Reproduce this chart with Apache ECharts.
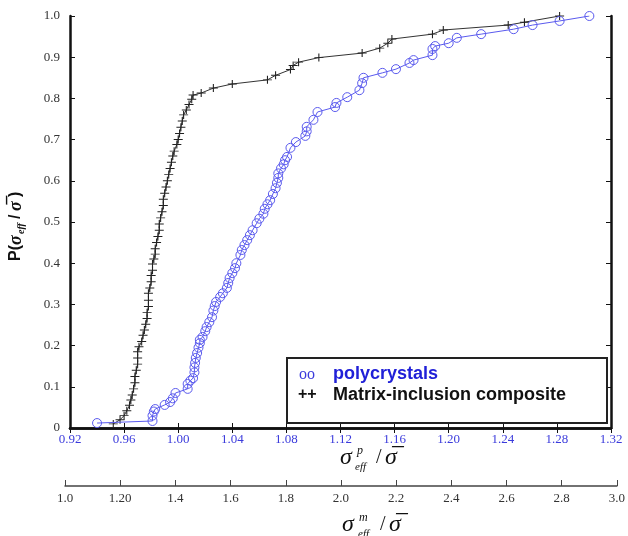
<!DOCTYPE html>
<html>
<head>
<meta charset="utf-8">
<script src="https://cdn.jsdelivr.net/npm/echarts@6/dist/echarts.min.js"></script>
<style>
  html, body { margin: 0; padding: 0; background: #fff; }
  #main { width: 628px; height: 536px; }
</style>
</head>
<body>
<div id="main"></div>
<script>
// composite (black, plus markers)
var compositeX = [0.952,0.957,0.960,0.962,0.964,0.965,0.966,0.967,0.968,0.968,0.969,0.970,0.970,0.970,0.971,0.973,0.974,0.975,0.976,0.977,0.977,0.978,0.978,0.978,0.979,0.980,0.980,0.981,0.981,0.982,0.983,0.983,0.984,0.985,0.986,0.986,0.987,0.988,0.989,0.989,0.990,0.991,0.992,0.993,0.994,0.995,0.996,0.997,0.999,1.000,1.001,1.002,1.003,1.004,1.006,1.008,1.010,1.011,1.017,1.026,1.040,1.066,1.072,1.083,1.085,1.089,1.104,1.136,1.149,1.155,1.158,1.188,1.196,1.244,1.256,1.282];
var compositeP = [0.010,0.020,0.030,0.042,0.055,0.068,0.080,0.095,0.110,0.125,0.140,0.155,0.170,0.185,0.197,0.210,0.225,0.238,0.252,0.266,0.280,0.295,0.310,0.327,0.340,0.355,0.370,0.383,0.398,0.410,0.422,0.435,0.450,0.465,0.480,0.495,0.510,0.525,0.540,0.555,0.570,0.585,0.600,0.615,0.630,0.645,0.660,0.672,0.688,0.700,0.715,0.730,0.745,0.760,0.772,0.785,0.798,0.808,0.813,0.825,0.835,0.845,0.856,0.870,0.880,0.888,0.899,0.910,0.922,0.934,0.944,0.956,0.966,0.978,0.985,1.000];

// polycrystals (blue, circle markers)
var polyX = [0.940,0.981,0.981,0.982,0.983,0.990,0.994,0.996,0.998,1.007,1.007,1.009,1.011,1.012,1.012,1.0125,1.013,1.014,1.015,1.016,1.016,1.018,1.020,1.021,1.023,1.025,1.026,1.027,1.028,1.031,1.033,1.036,1.037,1.038,1.040,1.042,1.043,1.046,1.047,1.049,1.051,1.053,1.055,1.058,1.060,1.063,1.064,1.066,1.068,1.070,1.072,1.073,1.074,1.074,1.076,1.078,1.079,1.0805,1.083,1.087,1.094,1.095,1.095,1.100,1.103,1.116,1.117,1.125,1.134,1.136,1.137,1.151,1.161,1.171,1.174,1.188,1.188,1.190,1.200,1.206,1.224,1.248,1.262,1.282,1.304];
var polyP = [0.012,0.017,0.030,0.040,0.046,0.056,0.063,0.072,0.085,0.095,0.107,0.115,0.121,0.135,0.147,0.158,0.170,0.182,0.195,0.206,0.214,0.221,0.235,0.245,0.257,0.269,0.285,0.296,0.306,0.318,0.327,0.340,0.352,0.364,0.376,0.388,0.400,0.420,0.432,0.444,0.456,0.468,0.480,0.497,0.508,0.520,0.532,0.543,0.553,0.568,0.582,0.595,0.607,0.618,0.630,0.640,0.650,0.658,0.680,0.694,0.709,0.720,0.731,0.748,0.767,0.779,0.789,0.803,0.820,0.837,0.850,0.862,0.871,0.886,0.893,0.905,0.920,0.927,0.934,0.947,0.956,0.968,0.978,0.988,1.000];

// secondary (matrix) axis tick labels
var matrixTicks = ['1.0','1.20','1.4','1.6','1.8','2.0','2.2','2.4','2.6','2.8','3.0'];

var legendNames = ['polycrystals', 'Matrix-inclusion composite'];

function pairs(xs, ys) {
    var out = [];
    for (var i = 0; i < xs.length; i++) out.push([xs[i], ys[i]]);
    return out;
}

var serif = '"Liberation Serif", "DejaVu Serif", serif';
var sans = '"Liberation Sans", Arial, sans-serif';
var blue = '#3b3bdc';
var plusPath = 'path://M0,4.4H10V5.6H0Z M4.4,0H5.6V10H4.4Z';

var dom = document.getElementById('main');
var myChart = echarts.init(dom, null, { renderer: 'canvas' });

var option = {
    animation: false,
    backgroundColor: '#fff',
    grid: [
        { left: 70, right: 17, top: 16, bottom: 108 },
        { left: 65, right: 11, top: 476, bottom: 50 }
    ],
    xAxis: [
        {
            gridIndex: 0, type: 'value', min: 0.92, max: 1.32, interval: 0.04,
            position: 'bottom',
            axisLine: { lineStyle: { color: '#111', width: 2.5 } },
            axisTick: { inside: true, length: 5, lineStyle: { color: '#111' } },
            splitLine: { show: false },
            axisLabel: {
                color: blue, fontFamily: serif, fontSize: 13, margin: 5,
                formatter: function (v) { return v.toFixed(2); }
            }
        },
        {
            gridIndex: 0, type: 'value', min: 0.92, max: 1.32, interval: 0.04,
            position: 'top',
            axisLine: { lineStyle: { color: '#111', width: 2.5 } },
            axisTick: { inside: true, length: 5, lineStyle: { color: '#111' } },
            splitLine: { show: false },
            axisLabel: { show: false }
        },
        {
            gridIndex: 1, type: 'value', min: 1.0, max: 3.0, interval: 0.2,
            position: 'bottom',
            axisLine: { lineStyle: { color: '#444', width: 1.5 } },
            axisTick: { inside: true, length: 6, lineStyle: { color: '#444' } },
            splitLine: { show: false },
            axisLabel: {
                color: '#333', fontFamily: serif, fontSize: 13, margin: 6,
                formatter: function (v) { return matrixTicks[Math.round((v - 1.0) / 0.2)]; }
            }
        }
    ],
    yAxis: [
        {
            gridIndex: 0, type: 'value', min: 0, max: 1, interval: 0.1,
            position: 'left',
            axisLine: { show: true, lineStyle: { color: '#111', width: 2.5 } },
            axisTick: { show: true, inside: true, length: 5, lineStyle: { color: '#111' } },
            splitLine: { show: false },
            axisLabel: {
                color: '#333', fontFamily: serif, fontSize: 13, margin: 10,
                formatter: function (v) { return v === 0 ? '0' : v.toFixed(1); }
            }
        },
        {
            gridIndex: 0, type: 'value', min: 0, max: 1, interval: 0.1,
            position: 'right',
            axisLine: { show: true, lineStyle: { color: '#111', width: 2.5 } },
            axisTick: { show: true, inside: true, length: 5, lineStyle: { color: '#111' } },
            splitLine: { show: false },
            axisLabel: { show: false }
        },
        { gridIndex: 1, type: 'value', min: 0, max: 1, show: false }
    ],
    series: [
        {
            name: legendNames[1],
            type: 'line',
            xAxisIndex: 0, yAxisIndex: 0,
            data: pairs(compositeX, compositeP),
            symbol: plusPath,
            symbolSize: [9, 8],
            itemStyle: { color: '#222' },
            lineStyle: { color: '#333', width: 1 },
            z: 3
        },
        {
            name: legendNames[0],
            type: 'line',
            xAxisIndex: 0, yAxisIndex: 0,
            data: pairs(polyX, polyP),
            symbol: 'circle',
            symbolSize: 9,
            itemStyle: { color: 'rgba(0,0,0,0)', borderColor: '#5a5aee', borderWidth: 1 },
            lineStyle: { color: '#5a5aee', width: 1 },
            z: 4
        }
    ],
    graphic: [
        // legend box
        {
            type: 'rect', left: 286, top: 357,
            shape: { width: 320, height: 65 },
            style: { fill: '#fff', stroke: '#222', lineWidth: 2 },
            z: 10
        },
        {
            type: 'text', left: 299, top: 367, z: 11,
            style: { text: 'oo', fill: blue, font: '16px ' + serif }
        },
        {
            type: 'text', left: 333, top: 365, z: 11,
            style: { text: legendNames[0], fill: '#2020d8', font: 'bold 18px ' + sans }
        },
        {
            type: 'text', left: 298, top: 387, z: 11,
            style: { text: '++', fill: '#111', font: 'bold 16px ' + sans }
        },
        {
            type: 'text', left: 333, top: 386, z: 11,
            style: { text: legendNames[1], fill: '#111', font: 'bold 18px ' + sans }
        },
        // y axis title
        {
            type: 'group', x: 16, y: 222, rotation: Math.PI / 2,
            children: [
                { type: 'text', x: -39, y: 0, style: { text: 'P(', fill: '#111', font: 'bold 16px ' + sans, textVerticalAlign: 'middle' } },
                { type: 'text', x: -23, y: 0, style: { text: 'σ', fill: '#111', font: 'italic bold 18px ' + serif, textVerticalAlign: 'middle' } },
                { type: 'text', x: -12, y: 5, style: { text: 'eff', fill: '#111', font: 'italic bold 10px ' + serif, textVerticalAlign: 'middle' } },
                { type: 'text', x: 3, y: 0, style: { text: '/', fill: '#111', font: 'bold 16px ' + sans, textVerticalAlign: 'middle' } },
                { type: 'text', x: 11, y: 0, style: { text: 'σ\u0305', fill: '#111', font: 'italic bold 18px ' + serif, textVerticalAlign: 'middle' } },
                { type: 'text', x: 25, y: 0, style: { text: ')', fill: '#111', font: 'bold 16px ' + sans, textVerticalAlign: 'middle' } }
            ]
        },
        // x axis title (p)
        {
            type: 'group', x: 340, y: 458,
            children: [
                { type: 'text', x: 0, y: 0, style: { text: 'σ', fill: '#111', font: 'italic 24px ' + serif, textVerticalAlign: 'middle' } },
                { type: 'text', x: 17, y: -7, style: { text: 'p', fill: '#111', font: 'italic 12px ' + serif, textVerticalAlign: 'middle' } },
                { type: 'text', x: 15, y: 9, style: { text: 'eff', fill: '#111', font: 'italic 11px ' + serif, textVerticalAlign: 'middle' } },
                { type: 'text', x: 36, y: 0, style: { text: '/', fill: '#111', font: '20px ' + serif, textVerticalAlign: 'middle' } },
                { type: 'text', x: 45, y: 0, style: { text: 'σ\u0305', fill: '#111', font: 'italic 24px ' + serif, textVerticalAlign: 'middle' } }
            ]
        },
        // x axis title (m)
        {
            type: 'group', x: 342, y: 525,
            children: [
                { type: 'text', x: 0, y: 0, style: { text: 'σ', fill: '#111', font: 'italic 24px ' + serif, textVerticalAlign: 'middle' } },
                { type: 'text', x: 17, y: -7, style: { text: 'm', fill: '#111', font: 'italic 12px ' + serif, textVerticalAlign: 'middle' } },
                { type: 'text', x: 16, y: 9, style: { text: 'eff', fill: '#111', font: 'italic 11px ' + serif, textVerticalAlign: 'middle' } },
                { type: 'text', x: 38, y: 0, style: { text: '/', fill: '#111', font: '20px ' + serif, textVerticalAlign: 'middle' } },
                { type: 'text', x: 47, y: 0, style: { text: 'σ\u0305', fill: '#111', font: 'italic 24px ' + serif, textVerticalAlign: 'middle' } }
            ]
        }
    ]
};

if (option && typeof option === 'object') {
    myChart.setOption(option);
}
window.addEventListener('resize', myChart.resize);
</script>
</body>
</html>
